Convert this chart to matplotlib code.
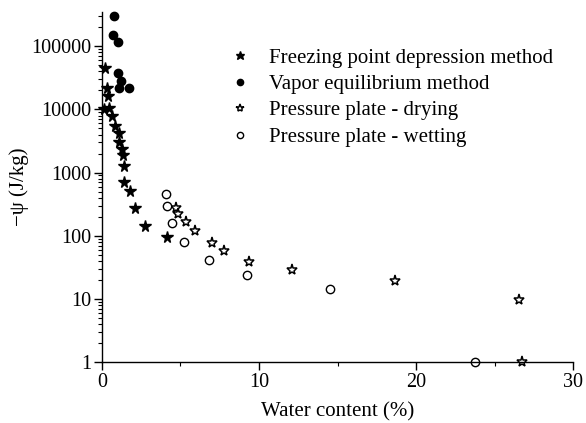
import matplotlib
matplotlib.use("Agg")
import matplotlib.pyplot as plt
from matplotlib.ticker import FixedLocator, LogLocator, NullFormatter, FixedFormatter

plt.rcParams['font.family'] = ['Liberation Serif', 'DejaVu Serif']
plt.rcParams['mathtext.fontset'] = 'stix'

# Freezing point depression method (filled stars)
fpd_x = [0.19, 0.30, 0.40, 0.15, 0.47, 0.62, 0.83, 1.06, 1.10, 1.27, 1.34, 1.38, 1.40, 1.80, 2.12, 2.76, 4.16]
fpd_y = [46000, 21500, 16000, 10200, 10500, 7800, 5400, 4250, 3000, 2400, 1880, 1290, 720, 505, 275, 144, 95]

# Vapor equilibrium method (filled circles)
ve_x = [0.76, 0.68, 1.02, 1.02, 1.21, 1.06, 1.72]
ve_y = [296000, 151000, 115000, 38000, 28000, 22000, 22000]

# Pressure plate - drying (open stars)
ppd_x = [4.69, 4.84, 5.37, 5.90, 7.03, 7.77, 9.34, 12.08, 18.66, 26.56, 26.73]
ppd_y = [275, 224, 167, 120, 78, 58, 39, 29, 19.5, 9.6, 1.0]

# Pressure plate - wetting (open circles)
ppw_x = [4.10, 4.14, 4.46, 5.24, 6.83, 9.24, 14.52, 23.74]
ppw_y = [465, 293, 158, 79, 41.6, 24, 14.6, 1.0]

labels = ["Freezing point depression method", "Vapor equilibrium method",
          "Pressure plate - drying", "Pressure plate - wetting"]
x_ticks = [0, 10, 20, 30]
y_ticks = [1, 10, 100, 1000, 10000, 100000]
y_tick_labels = ["1", "10", "100", "1000", "10000", "100000"]

fig = plt.figure(figsize=(5.86, 4.23), dpi=100)
ax = fig.add_axes([0.174, 0.144, 0.804, 0.828])

ax.plot(fpd_x, fpd_y, linestyle='none', marker='*', markersize=8.5, color='black', label=labels[0], clip_on=False)
ax.plot(ve_x, ve_y, linestyle='none', marker='o', markersize=6, color='black', label=labels[1], clip_on=False)
ax.plot(ppd_x, ppd_y, linestyle='none', marker='*', markersize=8, markerfacecolor='white',
        markeredgecolor='black', markeredgewidth=1.1, label=labels[2], clip_on=False)
ax.plot(ppw_x, ppw_y, linestyle='none', marker='o', markersize=6, markerfacecolor='white',
        markeredgecolor='black', markeredgewidth=1.0, label=labels[3], clip_on=False)

ax.set_yscale('log')
ax.set_xlim(0, 30)
ax.set_ylim(1, 350000)

ax.xaxis.set_major_locator(FixedLocator(x_ticks))
ax.xaxis.set_minor_locator(FixedLocator([5, 15, 25]))
ax.yaxis.set_major_locator(FixedLocator(y_ticks))
ax.yaxis.set_major_formatter(FixedFormatter(y_tick_labels))
ax.yaxis.set_minor_locator(LogLocator(base=10, subs=range(2, 10)))
ax.yaxis.set_minor_formatter(NullFormatter())

ax.spines['top'].set_visible(False)
ax.spines['right'].set_visible(False)
for s in ['left', 'bottom']:
    ax.spines[s].set_linewidth(1.0)

ax.tick_params(axis='both', which='major', direction='out', length=6, width=1.0, labelsize=14.5,
               colors='black', pad=2)
ax.tick_params(axis='both', which='minor', direction='out', length=3, width=0.8)

ax.set_xlabel("Water content (%)", fontsize=15, labelpad=7.5)
ax.set_ylabel("\u2212\u03c8 (J/kg)", fontsize=15, labelpad=1)

leg = ax.legend(loc='upper left', bbox_to_anchor=(229.6 / 586, 1 - 48 / 423), bbox_transform=fig.transFigure,
                frameon=False, fontsize=15, borderpad=0, borderaxespad=0,
                handletextpad=0.9, labelspacing=0.33, handlelength=1.0, markerscale=0.75)

fig.savefig("out.png", dpi=100)
